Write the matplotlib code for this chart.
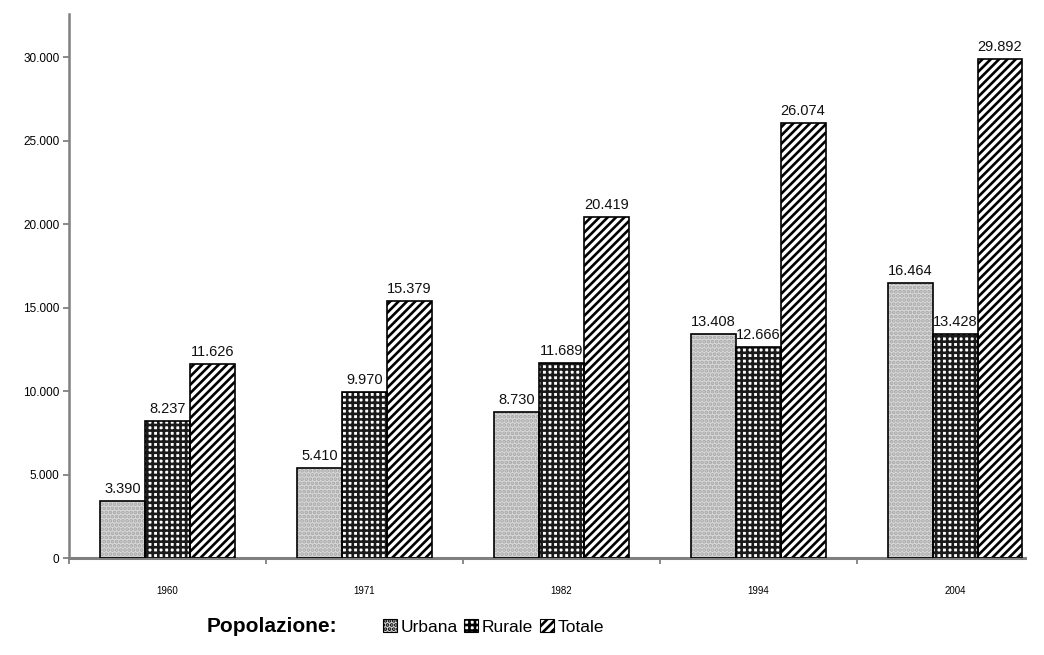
import matplotlib
matplotlib.use("Agg")
import matplotlib.pyplot as plt
from matplotlib.patches import Patch
from matplotlib.ticker import FuncFormatter
import numpy as np

anni = ["1960", "1971", "1982", "1994", "2004"]
urbana = [3390, 5410, 8730, 13408, 16464]
rurale = [8237, 9970, 11689, 12666, 13428]
totale = [11626, 15379, 20419, 26074, 29892]

plt.rcParams['font.family'] = ['Liberation Sans', 'DejaVu Sans']
plt.rcParams['hatch.linewidth'] = 1.9


def fmt(v):
    return f"{int(v):,}".replace(",", ".")


fig = plt.figure(figsize=(10.44, 6.55), dpi=100)
ax = fig.add_axes([0.0661, 0.148, 0.9157, 0.8306])

x = np.arange(len(anni))
w = 0.228
serie = [
    (urbana, -w, '#d9d9d9', '....', '#a6a6a6', 'Urbana'),
    (rurale, 0, 'white', '+++', '#1a1a1a', 'Rurale'),
    (totale, w, 'white', '////', '#000000', 'Totale'),
]

handles = []
for vals, off, fc, hatch, hc, nome in serie:
    ax.bar(x + off, vals, w, color=fc, hatch=hatch, edgecolor=hc, linewidth=0, zorder=2)
    ax.bar(x + off, vals, w, fill=False, edgecolor='black', linewidth=1.2, zorder=3)
    for xi, v in zip(x + off, vals):
        ax.text(xi, v + 300, fmt(v), ha='center', va='bottom', fontsize=10.5, color='#111111')
    handles.append(Patch(facecolor=fc, hatch=hatch, edgecolor='black', linewidth=0.8, label=nome))

ax.set_xlim(-0.5, 4.355)
ax.set_ylim(0, 32600)
ax.set_yticks(np.arange(0, 30001, 5000))
ax.yaxis.set_major_formatter(FuncFormatter(lambda v, p: fmt(v)))
ax.tick_params(axis='y', labelsize=8.5, length=4, color='#777777', width=1.2, pad=3)

ax.set_xticks(x)
ax.set_xticklabels(anni, fontsize=7)
ax.set_xticks(np.arange(-0.5, 4.0, 1.0), minor=True)
ax.tick_params(axis='x', which='major', length=0, pad=20)
ax.tick_params(axis='x', which='minor', length=4, color='#777777', width=1.2)

for s in ['top', 'right']:
    ax.spines[s].set_visible(False)
ax.spines['left'].set_color('#808080')
ax.spines['left'].set_linewidth(1.8)
ax.spines['bottom'].set_color('#808080')
ax.spines['bottom'].set_linewidth(2.2)

fig.text(0.198, 0.043, "Popolazione:", fontsize=15, fontweight='bold', va='center', ha='left')
fig.legend(handles=handles, loc='center left', bbox_to_anchor=(0.36, 0.043), ncol=3,
           frameon=False, fontsize=12.5, handlelength=0.8, handleheight=0.8,
           handletextpad=0.2, columnspacing=0.4, borderaxespad=0)

fig.savefig("out.png", dpi=100)
